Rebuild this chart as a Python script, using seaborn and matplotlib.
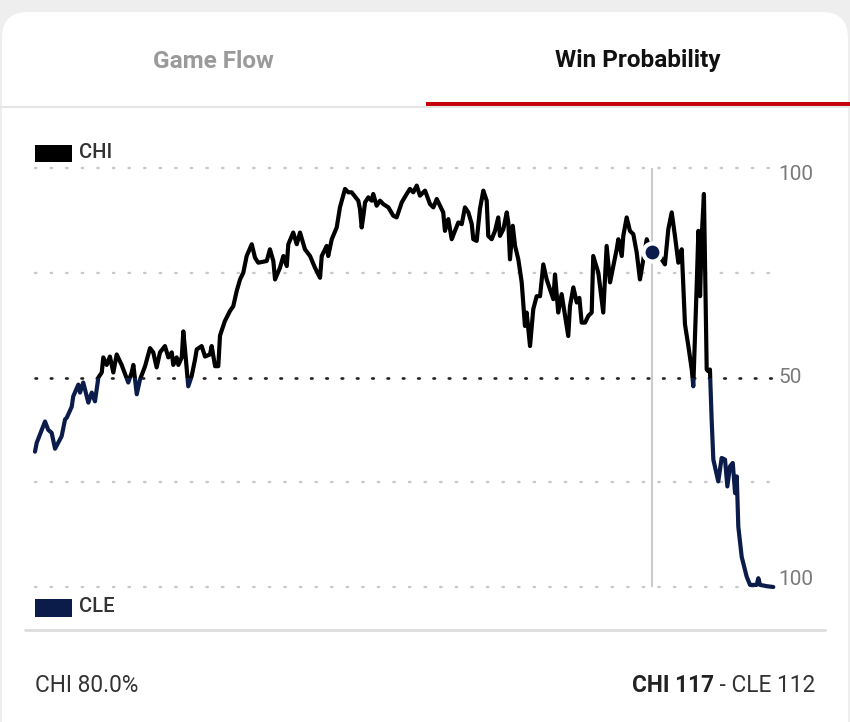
import matplotlib
matplotlib.use("Agg")
import matplotlib.pyplot as plt
import seaborn as sns
import pandas as pd
from matplotlib.patches import Rectangle, FancyBboxPatch
from matplotlib.lines import Line2D
from matplotlib.transforms import IdentityTransform

# === Datos: minuto de juego y probabilidad de victoria de CHI (%) ===
minutes = [
    0.00, 0.11, 0.65, 0.86, 1.08, 1.30, 1.73, 1.95, 2.06, 2.38, 2.48, 2.81, 2.92, 3.13,
    3.46, 3.68, 3.89, 4.11, 4.33, 4.43, 4.65, 4.86, 5.08, 5.30, 5.62, 6.05, 6.27, 6.38,
    6.60, 6.81, 7.14, 7.46, 7.67, 7.89, 8.11, 8.43, 8.65, 8.87, 8.97, 9.19, 9.30, 9.52,
    9.62, 9.73, 9.94, 10.16, 10.38, 10.49, 10.81, 11.03, 11.35, 11.46, 11.68, 11.89,
    12.00, 12.32, 12.65, 12.86, 13.08, 13.30, 13.51, 13.73, 14.06, 14.27, 14.48, 15.03,
    15.24, 15.46, 15.57, 15.89, 16.11, 16.33, 16.43, 16.75, 16.98, 17.19, 17.51, 17.84,
    18.16, 18.49, 18.60, 18.92, 19.02, 19.25, 19.57, 19.78, 20.11, 20.32, 20.54, 20.97,
    21.08, 21.19, 21.30, 21.41, 21.62, 21.84, 21.94, 22.16, 22.38, 22.59, 22.92, 23.24,
    23.46, 23.79, 24.11, 24.32, 24.54, 24.76, 24.97, 25.30, 25.62, 25.84, 26.06, 26.27,
    26.48, 26.59, 26.81, 27.03, 27.24, 27.46, 27.68, 27.89, 28.11, 28.33, 28.43, 28.65,
    28.86, 29.08, 29.30, 29.40, 29.62, 29.84, 30.05, 30.16, 30.38, 30.60, 30.70, 30.81,
    30.99, 31.14, 31.35, 31.57, 31.78, 31.89, 32.11, 32.32, 32.54, 32.76, 32.97, 33.19,
    33.41, 33.62, 33.73, 33.94, 34.16, 34.38, 34.59, 34.70, 34.92, 35.14, 35.31, 35.46,
    35.68, 35.89, 36.11, 36.21, 36.54, 36.86, 37.08, 37.30, 37.51, 37.73, 37.84, 38.06,
    38.16, 38.38, 38.59, 38.81, 39.03, 39.24, 39.46, 39.68, 39.89, 40.00, 40.22, 40.43,
    40.65, 40.86, 41.08, 41.30, 41.51, 41.73, 41.95, 42.16, 42.38, 42.60, 42.70, 42.92,
    43.03, 43.14, 43.25, 43.39, 43.57, 43.67, 43.78, 43.89, 44.00, 44.32, 44.54, 44.76,
    44.91, 45.08, 45.26, 45.41, 45.52, 45.62, 45.84, 46.16, 46.38, 46.81, 46.92, 47.03,
    47.46, 47.89,
]
chi_wp = [
    32.3, 34.4, 39.5, 37.5, 36.8, 33.0, 36.0, 40.0, 40.4, 43.0, 45.5, 48.3, 46.4, 48.8,
    44.0, 46.4, 44.3, 50.0, 51.2, 54.8, 53.0, 55.0, 51.2, 55.5, 53.0, 48.8, 51.2, 53.0,
    46.0, 49.5, 52.7, 57.0, 56.0, 52.4, 56.0, 57.5, 54.8, 56.0, 53.0, 54.8, 53.0, 54.8,
    61.0, 56.7, 47.9, 50.3, 54.3, 56.7, 57.5, 55.0, 55.5, 57.5, 52.7, 52.7,
    60.0, 63.5, 65.9, 67.0, 70.6, 73.4, 75.0, 79.0, 81.8, 78.6, 77.4, 77.8,
    80.6, 77.8, 73.4, 76.2, 79.0, 76.6, 81.8, 84.6, 81.8, 84.6, 80.6, 79.0,
    76.2, 73.8, 79.0, 81.4, 79.0, 83.0, 85.8, 90.6, 95.0, 94.2, 94.2, 92.2,
    90.2, 85.8, 88.6, 91.8, 93.0, 92.2, 93.8, 91.0, 92.2, 91.4, 90.6, 88.6,
    88.2, 91.8, 93.8, 95.0, 94.2, 95.8, 93.4, 94.6, 91.4, 90.6, 92.6, 91.0,
    89.4, 85.0, 87.8, 83.0, 85.0, 87.0, 86.6, 90.6, 89.4, 86.6, 83.0, 82.6,
    90.2, 94.6, 92.2, 83.8, 83.0, 85.0, 88.2, 83.8, 85.4, 89.4, 87.0, 78.2,
    86.2, 81.4, 78.2, 72.7, 62.3, 65.5, 57.5, 66.3, 69.4, 69.4, 77.0, 73.4,
    71.0, 68.7, 74.6, 65.5, 69.9, 64.7, 59.9, 67.0, 71.5, 67.9, 69.0, 63.1,
    63.1, 64.7, 65.5, 79.0, 75.0, 65.5, 81.4, 72.7, 76.6, 80.6, 83.0, 79.0,
    83.8, 88.2, 85.0, 84.2, 79.8, 73.4, 78.2, 83.0, 80.6, 80.0, 79.8, 81.4,
    78.2, 77.0, 85.4, 89.4, 83.8, 77.4, 80.6, 62.7, 57.5, 51.9, 47.9, 71.8,
    85.0, 69.4, 83.8, 93.8, 51.9, 51.5, 51.9, 40.0, 30.4, 25.2, 30.8, 30.4,
    24.0, 28.8, 29.6, 22.4, 26.4, 14.4, 7.2, 2.5, 0.5, 0.5, 2.1, 0.5,
    0.2, 0.0,
]
df = pd.DataFrame({"minute": minutes, "chi": chi_wp})

teams = ["CHI", "CLE"]
team_colors = ["#000000", "#0b1c4a"]
marker_min = 40.0
marker_wp = 80.0
tabs = ["Game Flow", "Win Probability"]
footer_left = "CHI 80.0%"
score_home = "CHI 117"
score_away = " - CLE 112"

sns.set_style("white")
plt.rcParams["font.family"] = ["Roboto", "DejaVu Sans"]

W, H = 850, 722
fig = plt.figure(figsize=(W / 100, H / 100), dpi=100)
fig.patch.set_facecolor("#eeeeee")

# tarjeta blanca
card = FancyBboxPatch((2, -30), W - 4, H - 10 + 30 - 2,
                      boxstyle="round,pad=0,rounding_size=26",
                      transform=IdentityTransform(), facecolor="white",
                      edgecolor="none", zorder=-5)
fig.patches.append(card)

def px(x, y):
    return x / W, 1 - y / H

# pestañas
fig.text(*px(213, 61), tabs[0], ha="center", va="center", fontsize=17.5,
         fontweight="bold", color="#9a9a9a")
fig.text(*px(638, 61), tabs[1], ha="center", va="center", fontsize=17.5,
         fontweight="bold", color="#111111")
fig.add_artist(Line2D([0, 1], [1 - 107 / H] * 2, color="#e6e6e6", lw=1.5,
                      transform=fig.transFigure))
fig.add_artist(Rectangle(px(426, 108), (W - 426) / W, 6 / H, color="#c4000c",
                         transform=fig.transFigure, lw=0))

# === Gráfico ===
left, right, top, bottom = 35, 775, 168, 587
ax = fig.add_axes([left / W, 1 - bottom / H, (right - left) / W, (bottom - top) / H])
ax.set_facecolor("none")
ax.set_xlim(0, 48)
ax.set_ylim(0, 100)

for v in [0, 25, 75, 100]:
    ax.axhline(v, color="#c8c8c8", lw=1.7, ls=(0, (0.6, 6.0)), dash_capstyle="round",
               zorder=1, clip_on=False)
ax.axhline(50, color="#222222", lw=1.9, ls=(0, (0.6, 5.2)), dash_capstyle="round",
           zorder=1, clip_on=False)

ax.axvline(marker_min, color="#cccccc", lw=1.5, zorder=1)

sns.lineplot(data=df, x="minute", y="chi", ax=ax, color=team_colors[0], lw=3.0,
             zorder=3)
ax.lines[-1].set_clip_path(Rectangle((-5, 50), 60, 60, transform=ax.transData))
sns.lineplot(data=df, x="minute", y="chi", ax=ax, color=team_colors[1], lw=3.0,
             zorder=3)
ax.lines[-1].set_clip_path(Rectangle((-5, -10), 60, 60, transform=ax.transData))
for l in ax.lines[-2:]:
    l.set_solid_joinstyle("round")
    l.set_solid_capstyle("round")

ax.plot([marker_min], [marker_wp], "o", ms=13, mfc=team_colors[1], mec="white",
        mew=3, zorder=5)
ax.set_xlabel("")
ax.set_ylabel("")
for s in ax.spines.values():
    s.set_visible(False)
ax.set_xticks([])
ax.set_yticks([])

for v, yy in [(100, 98.4), (50, 50), (0, 1.7)]:
    lab = "100" if v != 50 else "50"
    ax.text(48.2, yy, lab, ha="left", va="center", fontsize=15,
            color="#7a7a7a", clip_on=False)

# leyenda
fig.add_artist(Rectangle(px(35, 162), 37 / W, 17 / H, color=team_colors[0],
                         transform=fig.transFigure, lw=0))
fig.text(*px(79, 153), teams[0], ha="left", va="center", fontsize=14.5,
         fontweight="medium", color="#333333")
fig.add_artist(Rectangle(px(35, 617), 37 / W, 18 / H, color=team_colors[1],
                         transform=fig.transFigure, lw=0))
fig.text(*px(79, 607), teams[1], ha="left", va="center", fontsize=14.5,
         fontweight="medium", color="#333333")

# pie
fig.add_artist(Line2D([25 / W, 825 / W], [1 - 630 / H] * 2, color="#dddddd",
                      lw=2, transform=fig.transFigure))
fig.text(*px(35, 686), footer_left, ha="left", va="center", fontsize=16.3,
         color="#333333")
t_away = fig.text(*px(815, 686), score_away, ha="right", va="center",
                  fontsize=16.3, color="#333333")
fig.canvas.draw()
bb = t_away.get_window_extent(fig.canvas.get_renderer())
fig.text(bb.x0 / W, 1 - 686 / H, score_home, ha="right", va="center",
         fontsize=16.3, fontweight="bold", color="#222222")

fig.savefig("out.png", dpi=100, facecolor=fig.get_facecolor())
